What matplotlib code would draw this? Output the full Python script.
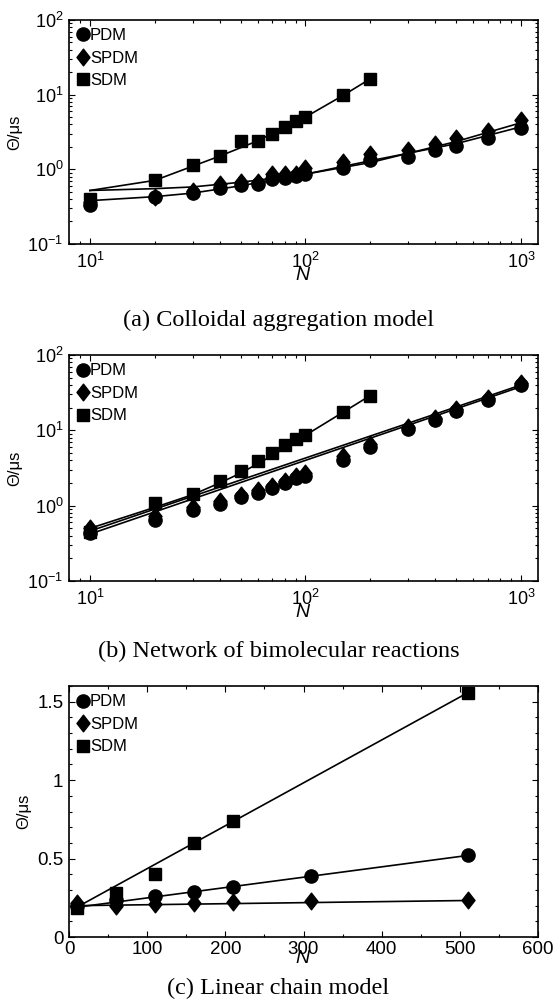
import numpy as np
import matplotlib
matplotlib.use('Agg')
import matplotlib.pyplot as plt
from matplotlib.path import Path
from matplotlib.ticker import LogLocator, MultipleLocator, NullFormatter

plt.rcParams['font.family'] = ['Liberation Sans', 'DejaVu Sans']
plt.rcParams['mathtext.fontset'] = 'custom'
plt.rcParams['mathtext.rm'] = 'Liberation Sans'
plt.rcParams['mathtext.it'] = 'Liberation Sans:italic'

# ---- data ----
N_log = [10, 20, 30, 40, 50, 60, 70, 80, 90, 100, 150, 200, 300, 400, 500, 700, 1000]
N_sdm = [10, 20, 30, 40, 50, 60, 70, 80, 90, 100, 150, 200]

# (a) colloidal aggregation
a_pdm = [0.33, 0.42, 0.48, 0.57, 0.62, 0.64, 0.75, 0.77, 0.81, 0.86, 1.05, 1.35, 1.47, 1.8, 2.06, 2.63, 3.6]
a_spdm = [0.37, 0.43, 0.51, 0.64, 0.68, 0.68, 0.86, 0.86, 0.87, 1.04, 1.25, 1.6, 1.8, 2.17, 2.63, 3.3, 4.55]
a_sdm = [0.40, 0.71, 1.13, 1.51, 2.4, 2.4, 3.0, 3.63, 4.45, 5.0, 9.8, 16.2]
a_fitN = [10, 20, 30, 50, 100, 200, 500, 1000]
a_pdm_fit = [0.38, 0.43, 0.48, 0.6, 0.86, 1.3, 2.2, 3.7]
a_spdm_fit = [0.52, 0.55, 0.58, 0.67, 0.86, 1.23, 2.35, 4.2]
a_sdm_fitN = [10, 20, 30, 40, 60, 70, 80, 90, 100, 150, 200]
a_sdm_fit = [0.52, 0.71, 1.1, 1.5, 2.4, 3.0, 3.6, 4.4, 5.0, 9.8, 16.3]

# (b) network of bimolecular reactions
b_pdm = [0.43, 0.65, 0.875, 1.05, 1.29, 1.47, 1.7, 2.0, 2.33, 2.5, 4.1, 6.1, 10.3, 13.9, 17.9, 25, 40]
b_spdm = [0.5, 0.72, 0.95, 1.15, 1.4, 1.6, 1.85, 2.15, 2.5, 2.7, 4.5, 6.5, 11, 14.8, 19, 27, 43]
b_sdm = [0.45, 1.07, 1.45, 2.1, 2.9, 3.9, 5.0, 6.3, 7.7, 8.8, 17.4, 29]
b_fitN = [10, 1000]
b_pdm_fit = [0.42, 38]
b_spdm_fit = [0.46, 40]
b_sdm_fit = [0.5, 0.95, 1.4, 2.0, 2.7, 3.6, 4.6, 5.8, 7.2, 8.6, 17.5, 29]

# (c) linear chain
N_lin = [10, 60, 110, 160, 210, 310, 510]
c_pdm = [0.195, 0.233, 0.26, 0.29, 0.318, 0.386, 0.525]
c_spdm = [0.218, 0.195, 0.21, 0.218, 0.222, 0.229, 0.237]
c_sdm_N = [10, 60, 110, 160, 210, 510]
c_sdm = [0.184, 0.28, 0.40, 0.60, 0.74, 1.557]
c_fitN = [10, 510]
c_pdm_fit = [0.19, 0.52]
c_spdm_fit = [0.2, 0.233]
c_sdm_fit = [0.19, 1.557]

labels = ['PDM', 'SPDM', 'SDM']
captions = ['(a) Colloidal aggregation model',
            '(b) Network of bimolecular reactions',
            '(c) Linear chain model']

# MATLAB-like diamond (a bit taller than wide)
diamond = Path([(0, 1), (0.78, 0), (0, -1), (-0.78, 0), (0, 1)],
               [Path.MOVETO, Path.LINETO, Path.LINETO, Path.LINETO, Path.CLOSEPOLY])
mk = {'PDM': dict(marker='o', markersize=9.5),
      'SPDM': dict(marker=diamond, markersize=12),
      'SDM': dict(marker='s', markersize=8.5)}

fig = plt.figure(figsize=(5.57, 10.08), dpi=100)
ax_a = fig.add_axes([0.1239, 0.758, 0.842, 0.2222])
ax_b = fig.add_axes([0.1239, 0.4236, 0.842, 0.2242])
ax_c = fig.add_axes([0.1239, 0.0704, 0.842, 0.249])


def style(ax, size):
    ax.tick_params(which='both', direction='in', top=True, right=True, labelsize=size)
    ax.tick_params(which='major', length=4, width=0.8)
    ax.tick_params(which='minor', length=2.5, width=0.8)
    ax.tick_params(axis='x', which='major', pad=6)
    ax.tick_params(axis='y', which='major', pad=4)
    for s in ax.spines.values():
        s.set_linewidth(1.2)
    ax.set_ylabel('Θ/μs', fontsize=12, labelpad=4)


def legend(ax):
    ax.legend(loc='upper left', frameon=False, fontsize=12, handlelength=0.7,
              handletextpad=0.05, labelspacing=0.45, borderaxespad=0.2,
              borderpad=0.3)


def plot_markers(ax, xs, ys):
    for lab, x, y in zip(labels, xs, ys):
        ax.plot(x, y, linestyle='none', color='black', label=lab, **mk[lab])


# (a)
for x, y in [(a_fitN, a_pdm_fit), (a_fitN, a_spdm_fit), (a_sdm_fitN, a_sdm_fit)]:
    ax_a.plot(x, y, color='black', lw=1.2)
plot_markers(ax_a, [N_log, N_log, N_sdm], [a_pdm, a_spdm, a_sdm])

# (b)
for x, y in [(b_fitN, b_pdm_fit), (b_fitN, b_spdm_fit), (N_sdm, b_sdm_fit)]:
    ax_b.plot(x, y, color='black', lw=1.2)
plot_markers(ax_b, [N_log, N_log, N_sdm], [b_pdm, b_spdm, b_sdm])

for ax in (ax_a, ax_b):
    ax.set_xscale('log')
    ax.set_yscale('log')
    ax.set_xlim(8, 1200)
    ax.set_ylim(0.1, 100)
    ax.xaxis.set_major_locator(LogLocator(base=10, numticks=10))
    ax.yaxis.set_major_locator(LogLocator(base=10, numticks=10))
    ax.xaxis.set_minor_locator(LogLocator(base=10, subs=np.arange(2, 10), numticks=20))
    ax.yaxis.set_minor_locator(LogLocator(base=10, subs=np.arange(2, 10), numticks=20))
    ax.xaxis.set_minor_formatter(NullFormatter())
    ax.yaxis.set_minor_formatter(NullFormatter())
    style(ax, 13)
    ax.set_xlabel('$N$', fontsize=14, labelpad=-4)
    legend(ax)

# (c)
for x, y in [(c_fitN, c_pdm_fit), (c_fitN, c_spdm_fit), (c_fitN, c_sdm_fit)]:
    ax_c.plot(x, y, color='black', lw=1.2)
plot_markers(ax_c, [N_lin, N_lin, c_sdm_N], [c_pdm, c_spdm, c_sdm])
ax_c.set_xlim(0, 600)
ax_c.set_ylim(0, 1.6)
ax_c.set_xticks([0, 100, 200, 300, 400, 500, 600])
ax_c.set_yticks([0, 0.5, 1, 1.5])
ax_c.set_yticklabels(['0', '0.5', '1', '1.5'])
ax_c.xaxis.set_minor_locator(MultipleLocator(50))
ax_c.yaxis.set_minor_locator(MultipleLocator(0.1))
style(ax_c, 13.5)
ax_c.tick_params(axis='x', which='major', pad=3)
ax_c.set_xlabel('$N$', fontsize=14, labelpad=-6)
legend(ax_c)

for ax, cap, yc in zip((ax_a, ax_b, ax_c), captions, (320, 651, 988)):
    fig.text(0.5, 1 - yc / 1008, cap, ha='center', va='center',
             family=['Liberation Serif', 'DejaVu Serif'], fontsize=17.5)

fig.savefig('out.png', dpi=100)
